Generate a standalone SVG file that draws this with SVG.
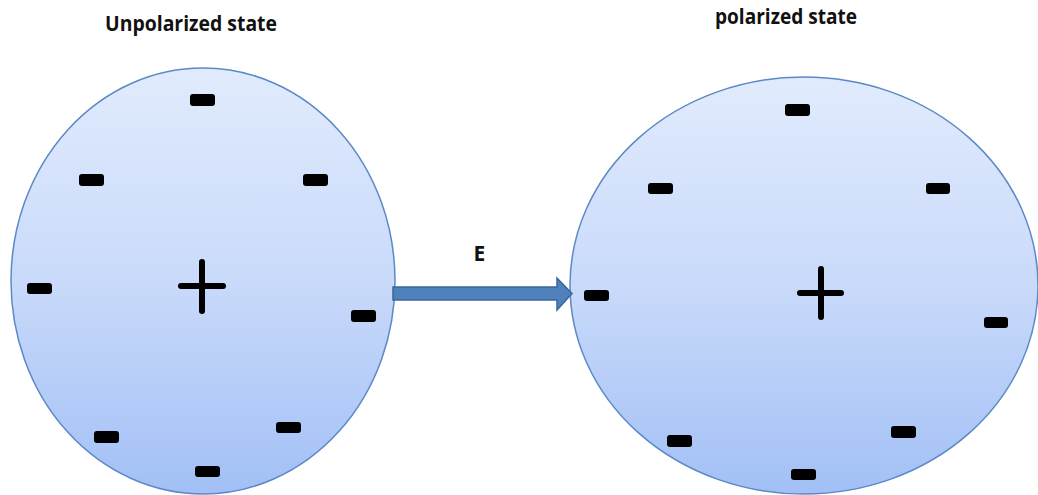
<svg xmlns="http://www.w3.org/2000/svg" width="1038" height="495" viewBox="0 0 1038 495">
  <defs>
    <linearGradient id="ballFill" x1="0" y1="0" x2="0" y2="1">
      <stop offset="0" stop-color="#e1ebfd"/>
      <stop offset="0.5" stop-color="#c9dafa"/>
      <stop offset="1" stop-color="#a2c0f6"/>
    </linearGradient>
    <style>
      .ball { fill: url(#ballFill); stroke: #5c89c6; stroke-width: 1.5; }
      .minus { fill: #000; }
      .plus { stroke: #000; stroke-width: 6; stroke-linecap: round; fill: none; }
      .title { font-family: "Open Sans", "Liberation Sans", sans-serif; font-weight: bold; font-size: 21px; fill: #111; }
      .field { fill: #4f81bd; stroke: #3b6699; stroke-width: 1.5; }
    </style>
  </defs>
  <rect width="1038" height="495" fill="#ffffff"/>

  <!-- unpolarized atom -->
  <g id="unpolarized">
    <text class="title" x="105" y="31" textLength="172" lengthAdjust="spacingAndGlyphs">Unpolarized state</text>
    <ellipse class="ball" cx="203" cy="281" rx="192" ry="213"/>
    <line class="plus" x1="202" y1="262" x2="202" y2="311"/>
    <line class="plus" x1="181" y1="286" x2="223" y2="286"/>
    <rect class="minus" x="190" y="94" width="25" height="12" rx="3"/>
    <rect class="minus" x="79" y="174" width="25" height="12" rx="3"/>
    <rect class="minus" x="303" y="174" width="25" height="12" rx="3"/>
    <rect class="minus" x="27" y="283" width="25" height="11" rx="3"/>
    <rect class="minus" x="351" y="310" width="25" height="12" rx="3"/>
    <rect class="minus" x="94" y="431" width="25" height="12" rx="3"/>
    <rect class="minus" x="276" y="422" width="25" height="11" rx="3"/>
    <rect class="minus" x="195" y="466" width="25" height="11" rx="3"/>
  </g>

  <!-- polarized atom -->
  <g id="polarized">
    <text class="title" x="715" y="24" textLength="142" lengthAdjust="spacingAndGlyphs">polarized state</text>
    <ellipse class="ball" cx="804" cy="285.5" rx="234" ry="208.5"/>
    <line class="plus" x1="821" y1="269" x2="821" y2="317"/>
    <line class="plus" x1="800" y1="293" x2="841" y2="293"/>
    <rect class="minus" x="785" y="104" width="25" height="12" rx="3"/>
    <rect class="minus" x="648" y="183" width="25" height="11" rx="3"/>
    <rect class="minus" x="926" y="183" width="24" height="11" rx="3"/>
    <rect class="minus" x="584" y="290" width="25" height="11" rx="3"/>
    <rect class="minus" x="984" y="317" width="24" height="11" rx="3"/>
    <rect class="minus" x="667" y="435" width="25" height="12" rx="3"/>
    <rect class="minus" x="891" y="426" width="25" height="12" rx="3"/>
    <rect class="minus" x="791" y="469" width="25" height="11" rx="3"/>
  </g>

  <!-- applied field -->
  <g id="connectors">
    <path class="field" d="M393 287 H557 V278 L572 293.5 L557 310 V300 H393 Z"/>
    <text class="title" x="479.5" y="261" font-size="19" text-anchor="middle">E</text>
  </g>
</svg>
